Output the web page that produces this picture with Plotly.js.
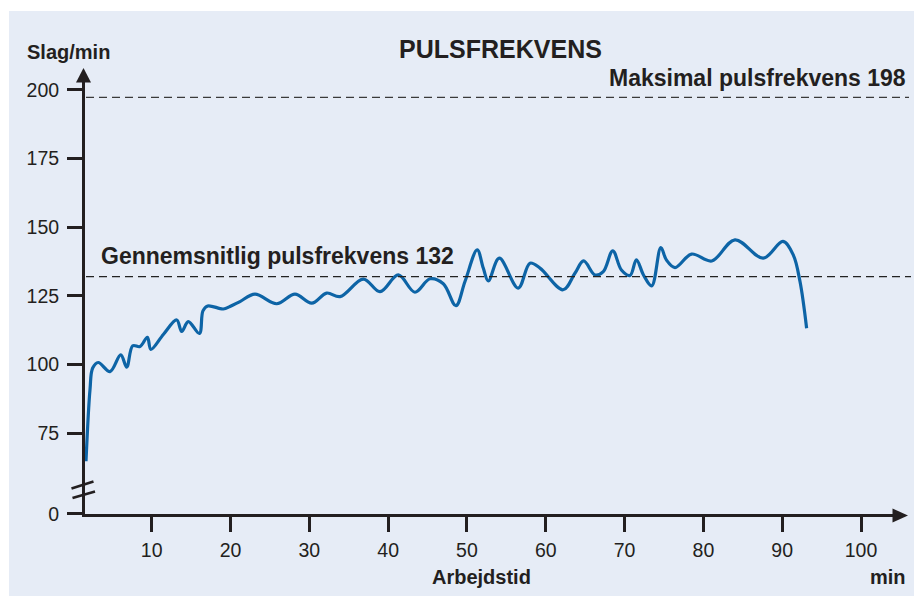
<!DOCTYPE html>
<html><head><meta charset="utf-8">
<script src="https://cdn.plot.ly/plotly-3.0.1.min.js"></script>
<style>html,body{margin:0;padding:0;background:#fff}#chart{width:914px;height:596px}</style>
</head><body><div id="chart"></div>
<script>
// Data
const minutes = [1.66, 2.17, 2.51, 3.22, 4.71, 6.07, 6.83, 7.59, 8.51, 9.45, 9.9, 11.5, 13.17, 13.81, 14.64, 16.05, 16.5, 17.1, 19.08, 19.93, 21.2, 23.1, 25.86, 28.18, 30.3, 32.2, 33.9, 36.85, 38.97, 41.29, 43.4, 45.31, 47.0, 48.6, 49.75, 51.3, 52.07, 52.7, 54.1, 56.5, 58.0, 59.27, 62.2, 63.7, 64.8, 66.25, 67.3, 68.5, 69.6, 70.7, 71.5, 72.4, 73.44, 74.6, 75.3, 76.4, 78.5, 81.06, 84.0, 87.6, 90.1, 91.4, 92.26, 93.1];
const pulse   = [64.7, 90.8, 98.7, 100.7, 97.4, 103.5, 99.0, 106.8, 106.5, 109.9, 105.5, 111.0, 116.2, 112.0, 115.6, 111.3, 119.5, 121.3, 120.2, 121.1, 122.9, 125.6, 122.1, 125.6, 122.3, 126.0, 124.7, 131.1, 126.5, 132.6, 126.3, 131.2, 129.4, 121.4, 130.2, 141.7, 135.1, 130.4, 138.7, 127.8, 136.9, 135.1, 127.2, 133.2, 137.7, 132.6, 133.8, 141.4, 134.4, 132.4, 138.1, 132.6, 128.6, 142.6, 138.1, 135.3, 140.2, 137.7, 145.4, 138.7, 144.8, 139.9, 130.2, 113.2];
const xTickVals = [10, 20, 30, 40, 50, 60, 70, 80, 90, 100];
const yTickVals = [45.6, 75, 100, 125, 150, 175, 200];
const yTickText = ['0', '75', '100', '125', '150', '175', '200'];
const maxPulseLine = 197.3;
const avgPulseLine = 132;

// Layout geometry (pixels)
const W = 914, H = 596, L = 85, R = 893, T = 82, B = 514;
const fx = px => (px - L) / (R - L);
const fy = py => (B - py) / (B - T);
const ink = '#231f20';
const FONT = 'Liberation Sans, Arial, sans-serif';

const trace = {
  x: minutes, y: pulse, type: 'scatter', mode: 'lines',
  line: {color: '#0d64a6', width: 3.2, shape: 'spline', smoothing: 1},
  hoverinfo: 'skip', cliponaxis: false
};

const shapes = [
  {type: 'rect', xref: 'paper', yref: 'paper', x0: fx(9), x1: fx(914), y0: fy(596), y1: fy(11),
   fillcolor: '#e6ecf6', line: {width: 0}, layer: 'below'},
  {type: 'line', xref: 'paper', yref: 'y', x0: fx(86), x1: fx(909), y0: maxPulseLine, y1: maxPulseLine,
   line: {color: '#3a3a3a', width: 1.2, dash: '8px,5px'}},
  {type: 'line', xref: 'paper', yref: 'y', x0: fx(86), x1: fx(911), y0: avgPulseLine, y1: avgPulseLine,
   line: {color: '#222222', width: 1.2, dash: '8px,5px'}},
  // y arrowhead
  {type: 'path', xref: 'paper', yref: 'paper',
   path: `M ${fx(76)} ${fy(82.5)} L ${fx(83.5)} ${fy(68)} L ${fx(91)} ${fy(82.5)} Z`,
   fillcolor: ink, line: {width: 0}},
  // x arrowhead
  {type: 'path', xref: 'paper', yref: 'paper',
   path: `M ${fx(892.5)} ${fy(508.5)} L ${fx(908)} ${fy(515.5)} L ${fx(892.5)} ${fy(522.5)} Z`,
   fillcolor: ink, line: {width: 0}},
  // axis break marks
  {type: 'line', xref: 'paper', yref: 'paper', x0: fx(71.5), y0: fy(488.5), x1: fx(93.5), y1: fy(481.5),
   line: {color: ink, width: 2.6}},
  {type: 'line', xref: 'paper', yref: 'paper', x0: fx(72.5), y0: fy(498), x1: fx(95), y1: fy(491.5),
   line: {color: ink, width: 2.6}}
];

const annFont = (s) => ({family: FONT, size: s, color: ink, weight: 'bold'});
const annotations = [
  {text: 'Slag/min', xref: 'paper', yref: 'paper', x: fx(25), y: fy(52), xanchor: 'left', yanchor: 'middle',
   showarrow: false, font: annFont(20)},
  {text: 'Maksimal pulsfrekvens 198', xref: 'paper', yref: 'paper', x: fx(907.5), y: fy(78), xanchor: 'right', yanchor: 'middle',
   showarrow: false, font: annFont(23)},
  {text: 'Gennemsnitlig pulsfrekvens 132', xref: 'paper', yref: 'paper', x: fx(98.5), y: fy(256), xanchor: 'left', yanchor: 'middle',
   showarrow: false, font: annFont(23)},
  {text: 'Arbejdstid', xref: 'paper', yref: 'paper', x: fx(481), y: fy(577), xanchor: 'center', yanchor: 'middle',
   showarrow: false, font: annFont(20)},
  {text: 'min', xref: 'paper', yref: 'paper', x: fx(908), y: fy(577), xanchor: 'right', yanchor: 'middle',
   showarrow: false, font: annFont(20)}
];

const layout = {
  width: W, height: H,
  margin: {l: L, r: W - R, t: T, b: H - B, pad: 0},
  paper_bgcolor: '#ffffff', plot_bgcolor: 'rgba(0,0,0,0)',
  showlegend: false,
  title: {text: 'PULSFREKVENS', xref: 'paper', x: fx(500.5), xanchor: 'center', yref: 'container', y: 1 - 49 / H, yanchor: 'middle',
          font: {family: FONT, size: 25, color: ink, weight: 'bold'}},
  xaxis: {range: [1.535, 104.06], tickmode: 'array', tickvals: xTickVals, ticks: 'outside', ticklen: 15, tickwidth: 3,
          tickcolor: ink, showline: true, linewidth: 3, linecolor: ink, showgrid: false, zeroline: false,
          ticklabelstandoff: 2,
          tickfont: {family: FONT, size: 19.5, color: ink}, fixedrange: true},
  yaxis: {range: [45.5, 202.9], tickmode: 'array', tickvals: yTickVals, ticktext: yTickText, ticks: 'outside', ticklen: 15, tickwidth: 3,
          tickcolor: ink, showline: true, linewidth: 3, linecolor: ink, showgrid: false, zeroline: false,
          ticklabelstandoff: 4,
          tickfont: {family: FONT, size: 19.5, color: ink}, fixedrange: true},
  shapes: shapes, annotations: annotations
};

Plotly.newPlot('chart', [trace], layout, {staticPlot: true, displayModeBar: false});
</script>
</body></html>
